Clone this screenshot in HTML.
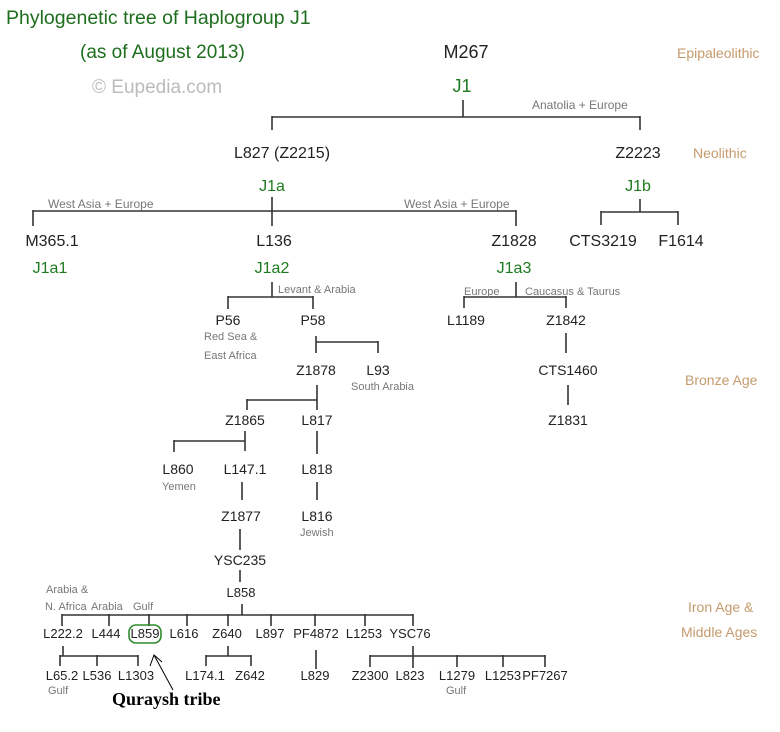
<!DOCTYPE html>
<html><head><meta charset="utf-8"><style>
html,body{margin:0;padding:0;background:#fff;}
svg{display:block;font-family:"Liberation Sans",sans-serif;}
.n{font-size:14px;fill:#222;text-anchor:middle;}
.b{font-size:16px;fill:#222;text-anchor:middle;}
.g{font-size:16px;fill:#1e7a1e;text-anchor:middle;}
.s{font-size:11px;fill:#777;}
.t{font-size:14px;fill:#c49a6c;}
line{stroke:#333;stroke-width:1.6;}
</style></head><body>
<svg width="780" height="732" viewBox="0 0 780 732">
<text x="6" y="24" style="font-size:19.5px;fill:#1e6e1e">Phylogenetic tree of Haplogroup J1</text>
<text x="80" y="58" style="font-size:19px;fill:#1e6e1e">(as of August 2013)</text>
<text x="92" y="93" style="font-size:19px;fill:#bbb">© Eupedia.com</text>
<text x="466" y="58" class="b" style="font-size:18px">M267</text>
<text x="462" y="92" class="g" style="font-size:18px">J1</text>
<text x="532" y="109" class="s" style="font-size:12px">Anatolia + Europe</text>
<text x="677" y="58" class="t">Epipaleolithic</text>
<text x="693" y="158" class="t">Neolithic</text>
<text x="685" y="385" class="t">Bronze Age</text>
<text x="688" y="612" class="t">Iron Age &amp;</text>
<text x="681" y="637" class="t">Middle Ages</text>
<line x1="463" y1="100" x2="463" y2="117"/><line x1="272" y1="117" x2="640" y2="117"/>
<line x1="272" y1="116" x2="272" y2="130"/><line x1="640" y1="116" x2="640" y2="130"/>
<text x="282" y="158" class="b">L827 (Z2215)</text>
<text x="638" y="158" class="b">Z2223</text>
<text x="272" y="191" class="g">J1a</text>
<text x="638" y="191" class="g">J1b</text>
<line x1="272" y1="197" x2="272" y2="211"/><line x1="33" y1="211" x2="516" y2="211"/>
<line x1="33" y1="210" x2="33" y2="226"/><line x1="272" y1="210" x2="272" y2="226"/><line x1="516" y1="210" x2="516" y2="226"/>
<text x="48" y="208" class="s" style="font-size:12px">West Asia + Europe</text>
<text x="404" y="208" class="s" style="font-size:12px">West Asia + Europe</text>
<line x1="640" y1="199" x2="640" y2="212"/><line x1="601" y1="212" x2="678" y2="212"/>
<line x1="601" y1="211" x2="601" y2="225"/><line x1="678" y1="211" x2="678" y2="225"/>
<text x="52" y="246" class="b">M365.1</text>
<text x="274" y="246" class="b">L136</text>
<text x="514" y="246" class="b">Z1828</text>
<text x="603" y="246" class="b">CTS3219</text>
<text x="681" y="246" class="b">F1614</text>
<text x="50" y="273" class="g">J1a1</text>
<text x="272" y="273" class="g">J1a2</text>
<text x="514" y="273" class="g">J1a3</text>
<line x1="272" y1="282" x2="272" y2="297"/><line x1="228" y1="297" x2="313" y2="297"/>
<line x1="228" y1="296" x2="228" y2="309"/><line x1="313" y1="296" x2="313" y2="309"/>
<text x="278" y="293" class="s">Levant &amp; Arabia</text>
<line x1="516" y1="282" x2="516" y2="297"/><line x1="464" y1="297" x2="566" y2="297"/>
<line x1="464" y1="296" x2="464" y2="308"/><line x1="566" y1="296" x2="566" y2="308"/>
<text x="464" y="295" class="s">Europe</text>
<text x="525" y="295" class="s">Caucasus &amp; Taurus</text>
<text x="228" y="325" class="n">P56</text>
<text x="313" y="325" class="n">P58</text>
<text x="466" y="325" class="n">L1189</text>
<text x="566" y="325" class="n">Z1842</text>
<text x="204" y="340" class="s">Red Sea &amp;</text>
<text x="204" y="359" class="s">East Africa</text>
<line x1="316" y1="336" x2="316" y2="353"/><line x1="316" y1="342" x2="378" y2="342"/><line x1="378" y1="341" x2="378" y2="353"/>
<line x1="566" y1="333" x2="566" y2="353"/>
<text x="316" y="375" class="n">Z1878</text>
<text x="378" y="375" class="n">L93</text>
<text x="568" y="375" class="n">CTS1460</text>
<text x="351" y="390" class="s">South Arabia</text>
<line x1="317" y1="385" x2="317" y2="410"/><line x1="247" y1="400" x2="317" y2="400"/><line x1="247" y1="399" x2="247" y2="410"/>
<line x1="568" y1="385" x2="568" y2="405"/>
<text x="245" y="425" class="n">Z1865</text>
<text x="317" y="425" class="n">L817</text>
<text x="568" y="425" class="n">Z1831</text>
<line x1="245" y1="431" x2="245" y2="451"/><line x1="174" y1="441" x2="245" y2="441"/><line x1="174" y1="440" x2="174" y2="452"/>
<line x1="317" y1="431" x2="317" y2="454"/>
<text x="178" y="474" class="n">L860</text>
<text x="245" y="474" class="n">L147.1</text>
<text x="317" y="474" class="n">L818</text>
<text x="162" y="490" class="s">Yemen</text>
<line x1="242" y1="482" x2="242" y2="500"/><line x1="317" y1="482" x2="317" y2="500"/>
<text x="241" y="521" class="n">Z1877</text>
<text x="317" y="521" class="n">L816</text>
<text x="300" y="536" class="s">Jewish</text>
<line x1="240" y1="529" x2="240" y2="550"/>
<text x="240" y="565" class="n">YSC235</text>
<line x1="240" y1="570" x2="240" y2="582"/>
<text x="241" y="597" class="n" style="font-size:13px">L858</text>
<text x="46" y="593" class="s">Arabia &amp;</text>
<text x="45" y="610" class="s">N. Africa</text>
<text x="91" y="610" class="s">Arabia</text>
<text x="133" y="610" class="s">Gulf</text>
<line x1="242" y1="604" x2="242" y2="615"/><line x1="62" y1="615" x2="413" y2="615"/>
<line x1="62" y1="614" x2="62" y2="626"/><line x1="109" y1="614" x2="109" y2="626"/><line x1="149" y1="614" x2="149" y2="626"/><line x1="187" y1="614" x2="187" y2="626"/><line x1="228" y1="614" x2="228" y2="626"/><line x1="271" y1="614" x2="271" y2="626"/><line x1="315" y1="614" x2="315" y2="626"/><line x1="365" y1="614" x2="365" y2="626"/><line x1="413" y1="614" x2="413" y2="626"/>
<text x="63" y="638" class="n" style="font-size:13px">L222.2</text>
<text x="106" y="638" class="n" style="font-size:13px">L444</text>
<text x="145" y="638" class="n" style="font-size:13px">L859</text>
<text x="184" y="638" class="n" style="font-size:13px">L616</text>
<text x="227" y="638" class="n" style="font-size:13px">Z640</text>
<text x="270" y="638" class="n" style="font-size:13px">L897</text>
<text x="316" y="638" class="n" style="font-size:13px">PF4872</text>
<text x="364" y="638" class="n" style="font-size:13px">L1253</text>
<text x="410" y="638" class="n" style="font-size:13px">YSC76</text>
<rect x="129" y="625" width="32" height="18" rx="7" fill="none" stroke="#2e8b2e" stroke-width="1.6"/>
<line x1="63" y1="646" x2="63" y2="656"/><line x1="60" y1="656" x2="138" y2="656"/>
<line x1="60" y1="655" x2="60" y2="666"/><line x1="97" y1="655" x2="97" y2="666"/><line x1="138" y1="655" x2="138" y2="666"/>
<line x1="228" y1="646" x2="228" y2="656"/><line x1="206" y1="656" x2="251" y2="656"/>
<line x1="206" y1="655" x2="206" y2="666"/><line x1="251" y1="655" x2="251" y2="666"/>
<line x1="316" y1="650" x2="316" y2="669"/>
<line x1="413" y1="646" x2="413" y2="668"/><line x1="370" y1="656" x2="545" y2="656"/>
<line x1="370" y1="655" x2="370" y2="667"/><line x1="457" y1="655" x2="457" y2="667"/><line x1="503" y1="655" x2="503" y2="667"/><line x1="545" y1="655" x2="545" y2="667"/>
<text x="62" y="680" class="n" style="font-size:13px">L65.2</text>
<text x="97" y="680" class="n" style="font-size:13px">L536</text>
<text x="136" y="680" class="n" style="font-size:13px">L1303</text>
<text x="205" y="680" class="n" style="font-size:13px">L174.1</text>
<text x="250" y="680" class="n" style="font-size:13px">Z642</text>
<text x="315" y="680" class="n" style="font-size:13px">L829</text>
<text x="370" y="680" class="n" style="font-size:13px">Z2300</text>
<text x="410" y="680" class="n" style="font-size:13px">L823</text>
<text x="457" y="680" class="n" style="font-size:13px">L1279</text>
<text x="503" y="680" class="n" style="font-size:13px">L1253</text>
<text x="545" y="680" class="n" style="font-size:13px">PF7267</text>
<text x="48" y="694" class="s">Gulf</text>
<text x="446" y="694" class="s">Gulf</text>
<line x1="173" y1="690" x2="154" y2="655" style="stroke:#000;stroke-width:1"/>
<polyline points="150,666 154,655 162,662" fill="none" stroke="#000" stroke-width="1"/>
<text x="112" y="705" style="font-family:'Liberation Serif',serif;font-weight:bold;font-size:18px;fill:#000">Quraysh tribe</text>
</svg>
</body></html>
